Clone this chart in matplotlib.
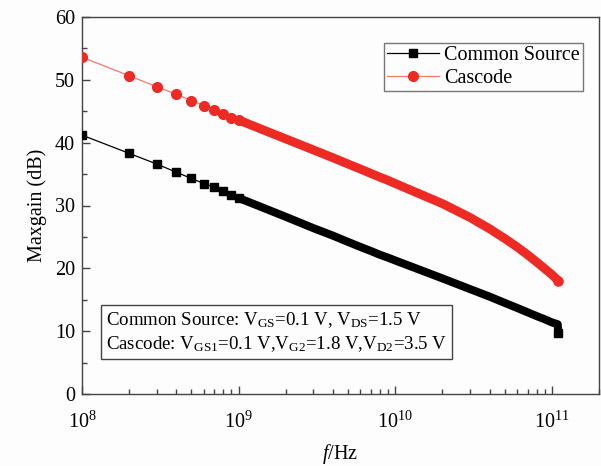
import numpy as np
import matplotlib
matplotlib.use("Agg")
import matplotlib.pyplot as plt
from matplotlib.ticker import LogLocator, MultipleLocator, NullFormatter
from matplotlib.lines import Line2D

plt.rcParams['font.family'] = ['Liberation Serif', 'DejaVu Serif']
plt.rcParams['mathtext.fontset'] = 'custom'
plt.rcParams['mathtext.rm'] = 'Liberation Serif'
plt.rcParams['mathtext.it'] = 'Liberation Serif:italic'
plt.rcParams['mathtext.bf'] = 'Liberation Serif:bold'

# ---- data ----
freq = [1e8, 2e8, 3e8, 4e8, 5e8, 6e8, 7e8, 8e8, 9e8,
        1e9, 2e9, 3e9, 4e9, 5e9, 6e9, 7e9, 8e9, 9e9,
        1e10, 2e10, 3e10, 4e10, 5e10, 6e10, 7e10, 8e10, 9e10,
        1e11, 1.09e11, 1.1e11]
common_source = [41.2, 38.3, 36.6, 35.3, 34.3, 33.5, 32.9, 32.3, 31.7,
                 31.2, 28.2, 26.4, 25.2, 24.2, 23.4, 22.75, 22.15, 21.7,
                 21.25, 18.4, 16.7, 15.5, 14.5, 13.7, 13.0, 12.4, 11.9,
                 11.4, 11.1, 9.7]
cascode = [53.6, 50.65, 48.9, 47.7, 46.7, 45.9, 45.2, 44.6, 44.0,
           43.6, 40.6, 38.85, 37.6, 36.6, 35.8, 35.1, 34.5, 34.0,
           33.5, 30.3, 28.1, 26.3, 24.75, 23.4, 22.15, 21.0, 19.95,
           19.0, 18.1, 17.95]
series_labels = ["Common Source", "Cascode"]
note_lines = [r"Common Source: V$_{\mathrm{GS}}$=0.1 V, V$_{\mathrm{DS}}$=1.5 V",
              r"Cascode: V$_{\mathrm{GS1}}$=0.1 V,V$_{\mathrm{G2}}$=1.8 V,V$_{\mathrm{D2}}$=3.5 V"]

f = np.array(freq)
cs = np.array(common_source)
cc = np.array(cascode)

W, H = 601, 466
bg = '#fdfdfd'
fig = plt.figure(figsize=(W / 100, H / 100), dpi=100, facecolor=bg)
ax = fig.add_axes([82 / W, 1 - 394 / H, (599 - 82) / W, (394 - 17) / H])
ax.set_facecolor(bg)

black = '#000000'
red = '#ee2a24'
red_line = '#f47a6a'

sparse = f <= 1e9
dense = f >= 1e9

# thin connecting lines
ax.plot(f, cs, color=black, lw=0.9, zorder=2)
ax.plot(f, cc, color=red_line, lw=0.9, zorder=2)

# dense regions: overlapping markers form a continuous band
ax.plot(f[dense], cs[dense], color=black, lw=5.8, solid_capstyle='butt',
        solid_joinstyle='round', zorder=3)
ax.plot(f[dense], cc[dense], color=red, lw=6.4, solid_capstyle='round',
        solid_joinstyle='round', zorder=3)

# separated markers
ax.plot(f[sparse], cs[sparse], ls='none', marker='s', ms=6.2, mfc=black, mec=black, zorder=4)
ax.plot(f[sparse], cc[sparse], ls='none', marker='o', ms=7.0, mfc=red, mec=red, zorder=4)
# last points of the sweep
ax.plot(f[-1:], cs[-1:], ls='none', marker='s', ms=6.2, mfc=black, mec=black, zorder=4)
ax.plot(f[-1:], cc[-1:], ls='none', marker='o', ms=6.6, mfc=red, mec=red, zorder=4)

ax.set_xscale('log')
ax.set_xlim(1e8, 2e11)
ax.set_ylim(0, 60)
ax.yaxis.set_major_locator(MultipleLocator(10))
ax.yaxis.set_minor_locator(MultipleLocator(5))
ax.xaxis.set_major_locator(LogLocator(base=10, numticks=10))
ax.xaxis.set_minor_locator(LogLocator(base=10, subs=np.arange(2, 10), numticks=20))
ax.xaxis.set_minor_formatter(NullFormatter())

ax.tick_params(axis='both', which='major', direction='in', length=6, width=1.0,
               color='#444444', labelsize=14.5, top=False, right=False)
ax.tick_params(axis='both', which='minor', direction='in', length=3.5, width=1.0,
               color='#444444', top=False, right=False)
ax.tick_params(axis='x', which='major', pad=13)
ax.tick_params(axis='y', which='major', pad=5)
for s in ax.spines.values():
    s.set_color('#444444')
    s.set_linewidth(1.0)

ax.set_xlabel(r"$f$/Hz", fontsize=14.5, labelpad=6)
ax.set_ylabel("Maxgain (dB)", fontsize=14.5, labelpad=6)

handles = [Line2D([], [], color=black, lw=0.9, marker='s', ms=6.2, mfc=black, mec=black),
           Line2D([], [], color=red_line, lw=0.9, marker='o', ms=7.0, mfc=red, mec=red)]
leg = ax.legend(handles, series_labels, loc='upper right',
                bbox_to_anchor=((583 - 82) / 517, (394 - 43) / 377),
                borderaxespad=0, fontsize=14.5, frameon=True, fancybox=False,
                handlelength=2.6, handletextpad=0.25, borderpad=0.15,
                labelspacing=0.2, edgecolor='#555555')
leg.get_frame().set_linewidth(1.0)
leg.get_frame().set_facecolor(bg)

ax.text((106 - 82) / 517, (394 - 332) / 377, "\n".join(note_lines),
        transform=ax.transAxes, fontsize=13.6, va='center', ha='left',
        linespacing=1.27,
        bbox=dict(boxstyle='square,pad=0.25', fc=bg, ec='#444444', lw=1.0),
        zorder=5)

fig.savefig("out.png", dpi=100, facecolor=fig.get_facecolor())
